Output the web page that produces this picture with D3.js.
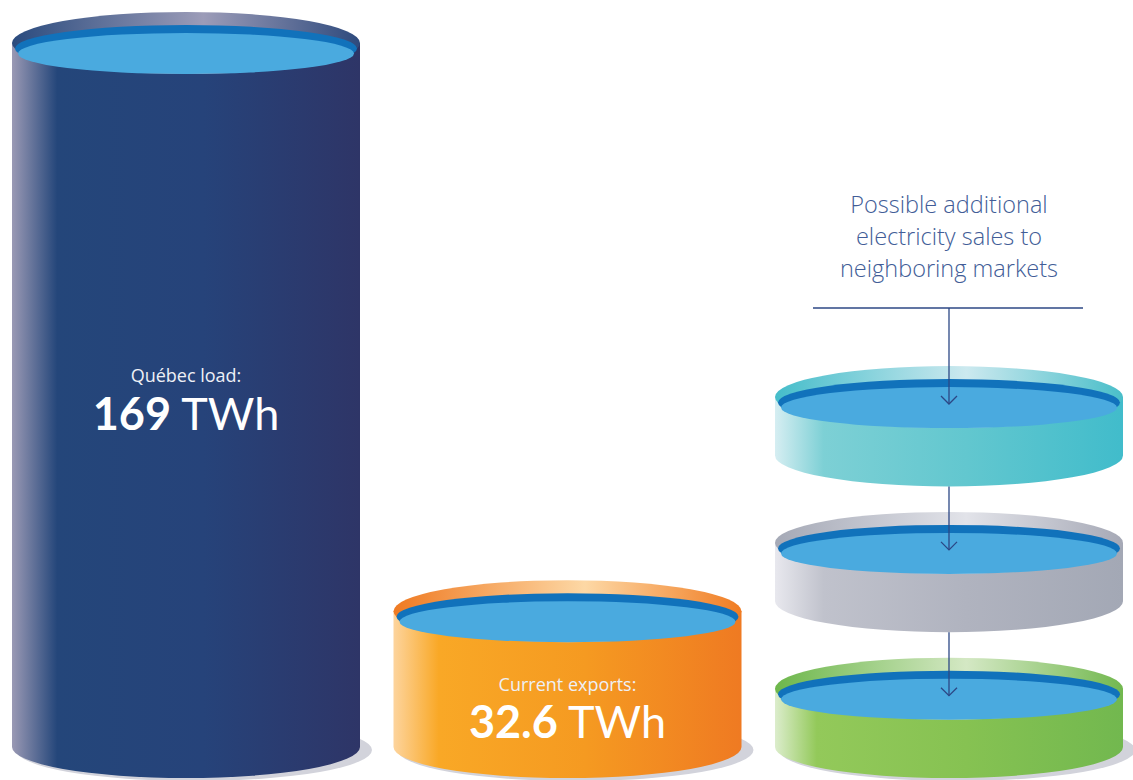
<!DOCTYPE html>
<html><head><meta charset="utf-8">
<script src="https://cdn.jsdelivr.net/npm/d3@7"></script>
<style>html,body{margin:0;padding:0;background:#fff;}svg{display:block;}</style>
</head><body>
<svg id="chart" width="1133" height="780"></svg>
<script>
// ---- data ----
const categories = ["Québec load", "Current exports", "Possible additional sales"];
const mainValues = [169, 32.6];                // TWh
const mainLabels = ["Québec load:", "Current exports:"];
const mainNumbers = ["169", "32.6"];
const unitLabel = "TWh";
// additional sales discs: [start, end] in TWh (conceptual blocks)
const discStart = [0, 35, 70];
const discEnd   = [14, 49, 84];
const annotationLines = ["Possible additional", "electricity sales to", "neighboring markets"];

// ---- styles ----
const palettes = {
  blue:   {side:[["0","#9a99b4"],["0.13","#24467a"],["0.55","#26437a"],["1","#2e3567"]], rim:["#2a4b7e","#9c9cb8","#2e4a7d"]},
  orange: {side:[["0","#fdd49d"],["0.13","#f9a826"],["0.55","#f59a21"],["1","#ef7a22"]], rim:["#ef7a22","#fdd8a5","#f07c22"]},
  teal:   {side:[["0","#d6eef2"],["0.14","#7dd0d5"],["0.55","#62c7cf"],["1","#41bccb"]], rim:["#45bdca","#cce9ef","#49bec9"]},
  gray:   {side:[["0","#e8e8ee"],["0.14","#c0c2cc"],["0.55","#b0b3bf"],["1","#a3a8b5"]], rim:["#a5a9b6","#e2e3e9","#a6a9b6"]},
  green:  {side:[["0","#dcedcc"],["0.12","#93c95a"],["0.55","#86c252"],["1","#72b84f"]], rim:["#6db74b","#d4e8c4","#72b84f"]}
};
const mainPalette = ["blue", "orange"];
const discPalette = ["green", "gray", "teal"];

const svg = d3.select("#chart");
const ry = 31;

const x = d3.scaleBand().domain(categories).range([12, 1123]).paddingInner(0.0878).paddingOuter(0);
const y = d3.scaleLinear().domain([0, 169]).range([747, 43]);
const rx = x.bandwidth() / 2;

const defs = svg.append("defs");
Object.entries(palettes).forEach(([k, p]) => {
  const gs = defs.append("linearGradient").attr("id", "side-" + k).attr("x1", 0).attr("x2", 1).attr("y1", 0).attr("y2", 0);
  p.side.forEach(s => gs.append("stop").attr("offset", s[0]).attr("stop-color", s[1]));
  const gr = defs.append("linearGradient").attr("id", "rim-" + k).attr("x1", 0).attr("x2", 1).attr("y1", 0).attr("y2", 0);
  gr.append("stop").attr("offset", 0).attr("stop-color", p.rim[0]);
  gr.append("stop").attr("offset", 0.55).attr("stop-color", p.rim[1]);
  gr.append("stop").attr("offset", 1).attr("stop-color", p.rim[2]);
});

function cylinder(g, cx, yTop, yBot, pal, shadow) {
  if (shadow) {
    g.append("ellipse").attr("cx", cx + 8).attr("cy", yBot + 3).attr("rx", rx + 4).attr("ry", ry)
      .attr("fill", "#d2d3db");
  }
  g.append("path")
    .attr("d", `M${cx - rx},${yTop} L${cx - rx},${yBot} A${rx},${ry} 0 0 0 ${cx + rx},${yBot} L${cx + rx},${yTop} Z`)
    .attr("fill", `url(#side-${pal})`);
  g.append("ellipse").attr("cx", cx).attr("cy", yTop).attr("rx", rx).attr("ry", ry)
    .attr("fill", `url(#rim-${pal})`);
  g.append("ellipse").attr("cx", cx).attr("cy", yTop + 5.5).attr("rx", rx - 3).attr("ry", 23.5)
    .attr("fill", "#1172bb");
  g.append("ellipse").attr("cx", cx).attr("cy", yTop + 10.5).attr("rx", rx - 6).attr("ry", 20.5)
    .attr("fill", "#4aaadf");
}

const gMain = svg.append("g");
mainValues.forEach((v, i) => {
  const cx = x(categories[i]) + rx;
  cylinder(gMain.append("g"), cx, y(v), y(0), mainPalette[i], true);
});

// labels
const labelFont = "'Open Sans', 'Noto Sans', sans-serif";
const numFont = "Lato, 'Open Sans', sans-serif";
const labelPos = [{a: 382, b: 430}, {a: 691, b: 738}];
mainValues.forEach((v, i) => {
  const cx = x(categories[i]) + rx;
  svg.append("text").attr("x", cx).attr("y", labelPos[i].a).attr("text-anchor", "middle")
    .attr("font-family", labelFont).attr("font-size", 18).attr("fill", "#eef0f6")
    .text(mainLabels[i]);
  const t = svg.append("text").attr("x", cx).attr("y", labelPos[i].b).attr("text-anchor", "middle")
    .attr("font-family", numFont).attr("font-size", 45).attr("fill", "#ffffff");
  t.append("tspan").attr("font-weight", 700).text(mainNumbers[i]);
  t.append("tspan").attr("font-weight", 400).text(" " + unitLabel);
});

// discs
const cx3 = x(categories[2]) + rx;
const gDisc = svg.append("g");
discStart.forEach((s, i) => {
  cylinder(gDisc.append("g"), cx3, y(discEnd[i]), y(s), discPalette[i], i === 0);
});

// annotation
const ann = svg.append("text").attr("text-anchor", "middle").attr("font-family", labelFont)
  .attr("font-weight", 300).attr("font-size", 23.5).attr("fill", "#425d97");
annotationLines.forEach((l, i) => {
  ann.append("tspan").attr("x", cx3).attr("y", 213 + i * 32).text(l);
});

const lineColor = "#2c4785";
svg.append("line").attr("x1", 813).attr("x2", 1083).attr("y1", 308).attr("y2", 308)
  .attr("stroke", lineColor).attr("stroke-width", 1.3);

// arrow segments into each disc (top to bottom)
const order = [2, 1, 0];
let prevY = 308;
order.forEach(i => {
  const tipY = y(discEnd[i]) + 7;
  svg.append("line").attr("x1", cx3).attr("x2", cx3).attr("y1", prevY).attr("y2", tipY)
    .attr("stroke", lineColor).attr("stroke-width", 1.3);
  svg.append("path").attr("d", `M${cx3 - 8},${tipY - 8} L${cx3},${tipY} L${cx3 + 8},${tipY - 8}`)
    .attr("fill", "none").attr("stroke", lineColor).attr("stroke-width", 1.3);
  prevY = y(discStart[i]) + ry;
});
</script>
</body></html>
